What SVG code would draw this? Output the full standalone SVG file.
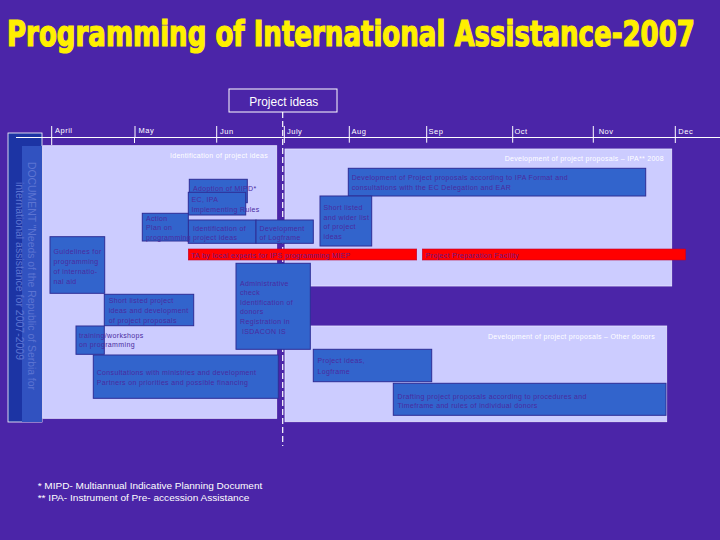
<svg xmlns="http://www.w3.org/2000/svg" width="720" height="540" viewBox="0 0 720 540">
<style>
.bg{fill:#4B25A8}
.panel{fill:#CCCCFF;stroke:#E6E6FF;stroke-width:0.8}
.box{fill:#3264CC;stroke:#2E2E96;stroke-width:1}
.red{fill:#FF0000;stroke:#C00030;stroke-width:0.6}
.t{font-family:"Liberation Sans",Arial,sans-serif;font-size:7px;letter-spacing:0.35px;fill:#4A2BA0}
.rt{font-family:"Liberation Sans",Arial,sans-serif;font-size:7px;letter-spacing:0.35px;fill:#6E1A88}
.pl{font-family:"Liberation Sans",Arial,sans-serif;font-size:7px;letter-spacing:0.3px;fill:#FFFFFF;text-anchor:end}
.m{font-family:"Liberation Sans",Arial,sans-serif;font-size:7.5px;letter-spacing:0.5px;fill:#FFFFFF}
.tick{stroke:#FFFFFF;stroke-width:1}
.fn{font-family:"Liberation Sans",Arial,sans-serif;font-size:9.3px;fill:#FFFFFF}
.vt{font-family:"Liberation Sans",Arial,sans-serif;font-size:10px;fill:#5C74D2}
</style>
<rect class="bg" x="0" y="0" width="720" height="540"/>

<g id="title">
<text transform="translate(7,46) scale(1,1.35)" x="0" y="0" font-family="DejaVu Sans Condensed, DejaVu Sans, sans-serif" font-weight="bold" font-stretch="condensed" font-size="26" fill="#FFF000" stroke="#FFF000" stroke-width="0.9" textLength="688" lengthAdjust="spacingAndGlyphs">Programming of International Assistance-2007</text>
</g>

<g id="side-document">
<rect x="8" y="133" width="34" height="289" fill="#1C34A4" stroke="#FFFFFF" stroke-width="0.8"/>
<rect x="22" y="146" width="20" height="276" fill="#3152C0"/>
<text class="vt" transform="translate(28,162) rotate(90)" textLength="228" lengthAdjust="spacingAndGlyphs">DOCUMENT "Needs of the Republic of Serbia for</text>
<text class="vt" transform="translate(15.5,182) rotate(90)" textLength="178" lengthAdjust="spacingAndGlyphs">international assistance for 2007-2009</text>
</g>

<g id="panels">
<rect class="panel" x="42.7" y="145.7" width="234" height="272.6"/>
<text class="pl" x="268" y="158">Identification of project ideas</text>
<rect class="panel" x="285" y="149" width="386.7" height="137"/>
<text class="pl" x="664" y="161">Development of project proposals  – IPA** 2008</text>
<rect class="panel" x="285" y="326" width="381.7" height="95.7"/>
<text class="pl" x="655" y="338.5">Development of project proposals  – Other donors</text>
</g>

<g id="timeline">
<line class="tick" x1="16" y1="137.5" x2="720" y2="137.5"/>
<line class="tick" x1="51.7" y1="126" x2="51.7" y2="145"/>
<line class="tick" x1="135" y1="126" x2="135" y2="137.5"/>
<line class="tick" x1="134.5" y1="137.5" x2="134.5" y2="143"/>
<line class="tick" x1="216.7" y1="126" x2="216.7" y2="142.7"/>
<line class="tick" x1="284.3" y1="126" x2="284.3" y2="143"/>
<line class="tick" x1="349.3" y1="126" x2="349.3" y2="142.7"/>
<line class="tick" x1="426.7" y1="126" x2="426.7" y2="142.7"/>
<line class="tick" x1="512.7" y1="126" x2="512.7" y2="142.7"/>
<line class="tick" x1="593.3" y1="126" x2="593.3" y2="142.7"/>
<line class="tick" x1="675.3" y1="126" x2="675.3" y2="143"/>
<text class="m" x="55" y="132.5">April</text>
<text class="m" x="138.5" y="132.5">May</text>
<text class="m" x="220" y="134">Jun</text>
<text class="m" x="287" y="134">July</text>
<text class="m" x="351.5" y="134">Aug</text>
<text class="m" x="428.5" y="134">Sep</text>
<text class="m" x="514.5" y="134">Oct</text>
<text class="m" x="598.7" y="134">Nov</text>
<text class="m" x="678.3" y="134">Dec</text>
</g>

<g id="project-ideas">
<rect x="229" y="89" width="108" height="23" fill="none" stroke="#FFFFFF" stroke-width="1"/>
<text x="249.3" y="105.5" font-family="Liberation Sans, Arial, sans-serif" font-size="12.5" fill="#FFFFFF" textLength="69" lengthAdjust="spacingAndGlyphs">Project ideas</text>
</g>

<g id="connectors">
<line x1="282.7" y1="112" x2="282.7" y2="446" stroke="#FFFFFF" stroke-width="1.2" stroke-dasharray="6 3"/>
</g>

<g id="adoption-mipd">
<rect class="box" x="189.3" y="179.3" width="58" height="23.4"/>
<text class="t" x="193" y="191">Adoption of MIPD*</text>
</g>
<g id="ec-ipa-rules">
<rect class="box" x="188.3" y="192.3" width="57.4" height="22.7"/>
<text class="t" x="191.5" y="202">EC, IPA</text>
<text class="t" x="191.5" y="212">Implementing Rules</text>
</g>
<g id="identification-ideas">
<rect class="box" x="188.3" y="220" width="67.7" height="23.3"/>
<text class="t" x="193" y="230.5">Identification of</text>
<text class="t" x="193" y="240">project ideas</text>
</g>
<g id="action-plan">
<rect class="box" x="142.3" y="213.3" width="46" height="27.7"/>
<text class="t" x="146" y="221">Action</text>
<text class="t" x="146" y="229.5">Plan on</text>
<text class="t" x="146" y="240">programming</text>
</g>
<g id="development-logframe">
<rect class="box" x="256" y="220" width="57.3" height="23.3"/>
<text class="t" x="259.5" y="230.5">Development</text>
<text class="t" x="259.5" y="240">of Logframe</text>
</g>
<g id="ta-local-experts">
<rect class="red" x="188.3" y="249" width="228.4" height="11"/>
<text class="rt" x="191" y="258">TA by local experts for IPS programming MIEP</text>
</g>
<g id="ppf">
<rect class="red" x="422.3" y="249" width="263.4" height="11"/>
<text class="rt" x="425.5" y="258">Project Preparation Facility</text>
</g>
<g id="ipa-proposals">
<rect class="box" x="348.3" y="168.3" width="297.4" height="27.7"/>
<text class="t" x="351.7" y="180">Development of Project proposals according to IPA Format  and</text>
<text class="t" x="351.7" y="189.5">consultations with the EC Delegation and EAR</text>
</g>
<g id="short-wider-list">
<rect class="box" x="320" y="196" width="51.7" height="50"/>
<text class="t" x="323.5" y="209.5">Short listed</text>
<text class="t" x="323.5" y="220">and wider list</text>
<text class="t" x="323.5" y="229">of project</text>
<text class="t" x="323.5" y="239">ideas</text>
</g>
<g id="guidelines">
<rect class="box" x="50" y="236.7" width="54.7" height="56.6"/>
<text class="t" x="53.5" y="254">Guidelines for</text>
<text class="t" x="53.5" y="264">programming</text>
<text class="t" x="53.5" y="274">of internatio-</text>
<text class="t" x="53.5" y="284">nal aid</text>
</g>
<g id="short-listed-project">
<rect class="box" x="104.3" y="294.3" width="89.4" height="31.4"/>
<text class="t" x="108.7" y="303">Short listed project</text>
<text class="t" x="108.7" y="313">ideas and development</text>
<text class="t" x="108.7" y="323">of project proposals</text>
</g>
<g id="training">
<rect class="box" x="76" y="326" width="28.3" height="28.3"/>
<text class="t" x="79" y="338">training/workshops</text>
<text class="t" x="79" y="347">on programming</text>
</g>
<g id="consultations">
<rect class="box" x="93.3" y="355" width="185" height="43.3"/>
<text class="t" x="96.7" y="375">Consultations with ministries and development</text>
<text class="t" x="96.7" y="384.5">Partners on priorities and possible financing</text>
</g>
<g id="administrative-check">
<rect class="box" x="236" y="263.3" width="74.3" height="86"/>
<text class="t" x="240" y="285.5">Administrative</text>
<text class="t" x="240" y="295">check</text>
<text class="t" x="240" y="305">Identification of</text>
<text class="t" x="240" y="314">donors</text>
<text class="t" x="240" y="324">Registration in</text>
<text class="t" x="242" y="333.5">ISDACON IS</text>
</g>
<g id="project-ideas-logframe">
<rect class="box" x="313.3" y="349.3" width="118.4" height="32.4"/>
<text class="t" x="317.5" y="363">Project ideas,</text>
<text class="t" x="317.5" y="373.5">Logframe</text>
</g>
<g id="drafting">
<rect class="box" x="393.3" y="383.3" width="272.7" height="32"/>
<text class="t" x="397.5" y="398.5">Drafting project proposals according to procedures and</text>
<text class="t" x="397.5" y="407.5">Timeframe and rules of individual donors</text>
</g>

<g id="footnotes">
<text class="fn" x="37.7" y="489.3" textLength="224.6" lengthAdjust="spacingAndGlyphs">* MIPD- Multiannual Indicative Planning Document</text>
<text class="fn" x="37.7" y="501" textLength="211.6" lengthAdjust="spacingAndGlyphs">** IPA- Instrument of Pre- accession Assistance</text>
</g>
</svg>
